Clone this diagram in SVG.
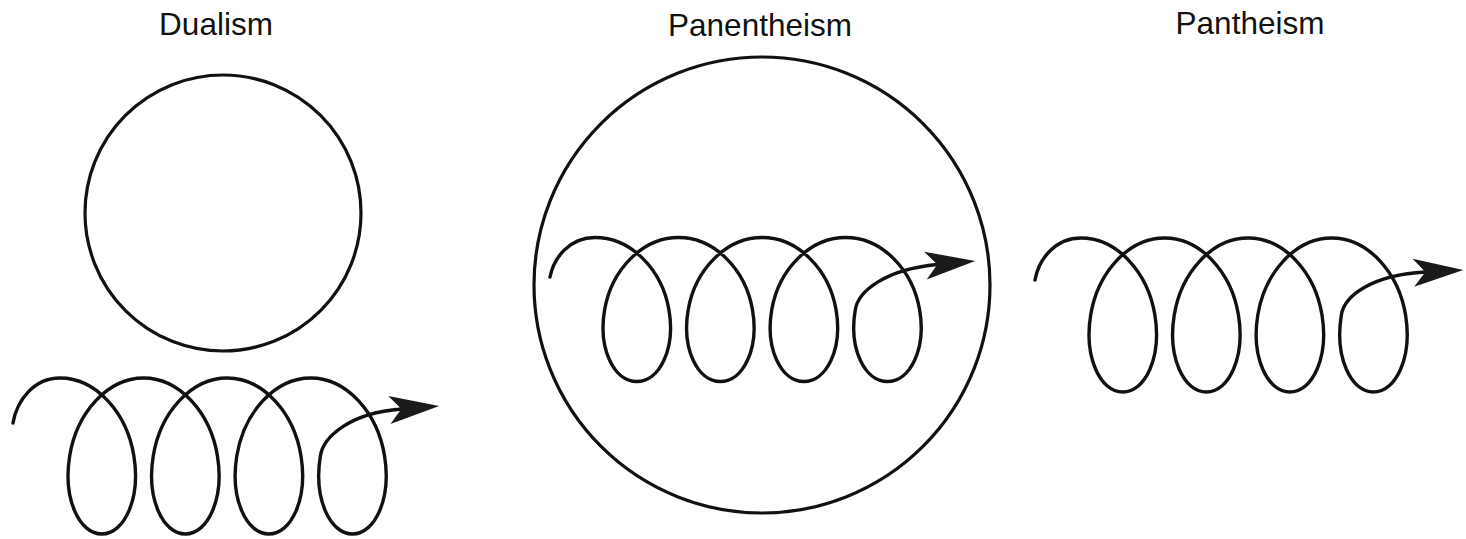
<svg xmlns="http://www.w3.org/2000/svg" width="1466" height="539" viewBox="0 0 1466 539">
  <style>
    .title { font-family: "Liberation Sans", Arial, Helvetica, sans-serif; font-size: 31.5px; fill: #111; text-anchor: middle; }
    .ring { fill: none; stroke: #111; stroke-width: 3.2; }
    .coil { fill: none; stroke: #111; stroke-width: 3.4; stroke-linecap: round; stroke-linejoin: round; marker-end: url(#arrow); }
  </style>
  <defs>
    <marker id="arrow" markerUnits="userSpaceOnUse" markerWidth="52" markerHeight="32" viewBox="0 0 52 32" refX="12" refY="16" orient="auto" overflow="visible">
      <path d="M0,2 L50,16 L0,30 L12,16 Z" fill="#1a1a1a"/>
    </marker>
  </defs>
  <rect width="1466" height="539" fill="#ffffff"/>

  <g id="dualism">
    <text class="title" x="216" y="35">Dualism</text>
    <circle class="ring" cx="223" cy="213" r="138"/>
    <path class="coil" d="M13,423 C17,400 34,378 60,378
      c36.23,0 66.93,34.92 73.89,78 c6.96,43.08 -9.8,78 -32.11,78 c-22.31,0 -39.07,-34.92 -32.11,-78 c6.96,-43.08 37.66,-78 73.89,-78
      c36.23,0 66.93,34.92 73.89,78 c6.96,43.08 -9.8,78 -32.11,78 c-22.31,0 -39.07,-34.92 -32.11,-78 c6.96,-43.08 37.66,-78 73.89,-78
      c36.23,0 66.93,34.92 73.89,78 c6.96,43.08 -9.8,78 -32.11,78 c-22.31,0 -39.07,-34.92 -32.11,-78 c6.96,-43.08 37.66,-78 73.89,-78
      c36.23,0 66.93,34.92 73.89,78 c6.96,43.08 -9.8,78 -32.11,78 c-22.31,0 -39.07,-34.92 -32.11,-78
      c3,-19 29,-43 81,-47"/>
  </g>

  <g id="panentheism">
    <text class="title" x="760" y="36">Panentheism</text>
    <circle class="ring" cx="762" cy="285" r="228"/>
    <path class="coil" d="M550,277 C554,257 570,237.5 595,237.5
      c36.23,0 66.93,32.23 73.89,72 c6.96,39.77 -9.8,72 -32.11,72 c-22.31,0 -39.07,-32.23 -32.11,-72 c6.96,-39.77 37.66,-72 73.89,-72
      c36.23,0 66.93,32.23 73.89,72 c6.96,39.77 -9.8,72 -32.11,72 c-22.31,0 -39.07,-32.23 -32.11,-72 c6.96,-39.77 37.66,-72 73.89,-72
      c36.23,0 66.93,32.23 73.89,72 c6.96,39.77 -9.8,72 -32.11,72 c-22.31,0 -39.07,-32.23 -32.11,-72 c6.96,-39.77 37.66,-72 73.89,-72
      c36.23,0 66.93,32.23 73.89,72 c6.96,39.77 -9.8,72 -32.11,72 c-22.31,0 -39.07,-32.23 -32.11,-72
      c3,-18 29,-40 82,-45"/>
  </g>

  <g id="pantheism">
    <text class="title" x="1250" y="34">Pantheism</text>
    <path class="coil" d="M1035,280 C1039,258 1056,238 1081,238
      c36.23,0 66.93,34.47 73.89,77 c6.96,42.53 -9.8,77 -32.11,77 c-22.31,0 -39.07,-34.47 -32.11,-77 c6.96,-42.53 37.66,-77 73.89,-77
      c36.23,0 66.93,34.47 73.89,77 c6.96,42.53 -9.8,77 -32.11,77 c-22.31,0 -39.07,-34.47 -32.11,-77 c6.96,-42.53 37.66,-77 73.89,-77
      c36.23,0 66.93,34.47 73.89,77 c6.96,42.53 -9.8,77 -32.11,77 c-22.31,0 -39.07,-34.47 -32.11,-77 c6.96,-42.53 37.66,-77 73.89,-77
      c36.23,0 66.93,34.47 73.89,77 c6.96,42.53 -9.8,77 -32.11,77 c-22.31,0 -39.07,-34.47 -32.11,-77
      c3,-19 30,-40 84,-43"/>
  </g>
</svg>
